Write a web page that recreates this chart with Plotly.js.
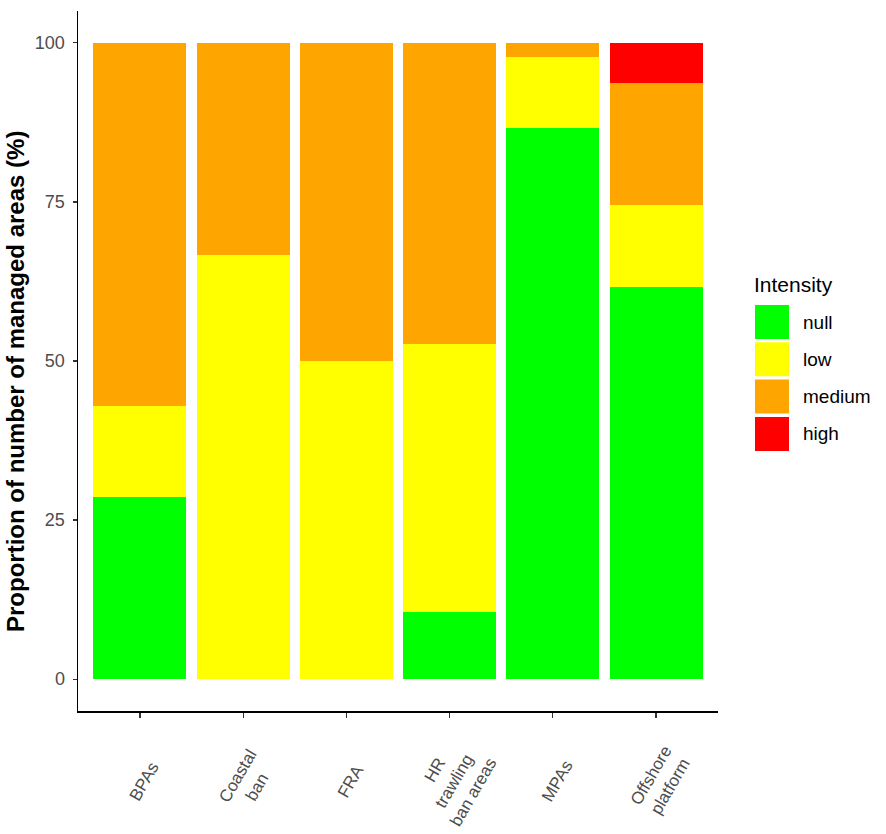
<!DOCTYPE html>
<html><head><meta charset="utf-8">
<script src="https://cdn.plot.ly/plotly-3.0.1.min.js"></script>
<style>html,body{margin:0;padding:0;background:#fff}</style>
</head><body>
<div id="chart" style="width:886px;height:834px"></div>
<script>
var categories = ["BPAs", "Coastal ban", "FRA", "HR trawling ban areas", "MPAs", "Offshore platform"];
var tickLabels = ["BPAs", "Coastal<br>ban", "FRA", "HR<br>trawling<br>ban areas", "MPAs", "Offshore<br>platform"];
var levels = ["null", "low", "medium", "high"];
var colors = ["#00FF00", "#FFFF00", "#FFA500", "#FF0000"];
var nullVals   = [28.57, 0, 0, 10.53, 86.67, 61.70];
var lowVals    = [14.29, 66.67, 50, 42.11, 11.11, 12.77];
var mediumVals = [57.14, 33.33, 50, 47.36, 2.22, 19.15];
var highVals   = [0, 0, 0, 0, 0, 6.38];
var series = [nullVals, lowVals, mediumVals, highVals];

var traces = series.map(function(v, i){
  return {type:'bar', x:categories, y:v, name:levels[i], marker:{color:colors[i], line:{width:0}}, showlegend:false};
});

var L = 78, T = 11, W = 640, H = 700;
function px(x){ return (x - L)/W; }
function py(y){ return (T + H - y)/H; }
var FONT = 'Arial, "Liberation Sans", sans-serif';

var shapes = [], annotations = [];
categories.forEach(function(c, i){
  annotations.push({xref:'x', yref:'paper', x:c, y:py(781), xshift:4, xanchor:'center', yanchor:'middle',
    text:tickLabels[i], textangle:-60, align:'center', showarrow:false,
    font:{family:FONT, size:17, color:'#4d4d4d'}});
});
annotations.push({xref:'paper', yref:'paper', x:px(15), y:py(382), xanchor:'center', yanchor:'middle',
  text:'<b>Proportion of number of managed areas (%)</b>', textangle:-90, showarrow:false,
  font:{family:FONT, size:24, color:'#000'}});
annotations.push({xref:'paper', yref:'paper', x:px(752), y:py(284), xanchor:'left', yanchor:'middle', text:'Intensity', showarrow:false, font:{family:FONT, size:21, color:'#000'}});
for (var i=0;i<levels.length;i++){
  var keyTop = 305 + i*37.3;
  shapes.push({type:'rect', xref:'paper', yref:'paper', x0:px(755), x1:px(789), y0:py(keyTop+34), y1:py(keyTop), fillcolor:colors[i], line:{width:0}});
  annotations.push({xref:'paper', yref:'paper', x:px(801), y:py(keyTop+17), xanchor:'left', yanchor:'middle', text:levels[i], showarrow:false, font:{family:FONT, size:19, color:'#000'}});
}

var layout = {
  width:886, height:834,
  margin:{l:L, r:886-L-W, t:T, b:834-T-H, pad:0},
  barmode:'stack', bargap:0.1,
  paper_bgcolor:'#fff', plot_bgcolor:'#fff',
  font:{family:FONT},
  xaxis:{type:'category', range:[-0.6, 5.6], showgrid:false, zeroline:false, showline:true, linecolor:'#000', linewidth:1.5,
         ticks:'outside', ticklen:5, tickcolor:'#333', tickwidth:1.2, showticklabels:false, fixedrange:true},
  yaxis:{range:[-5, 105], tickvals:[0,25,50,75,100], showgrid:false, zeroline:false, showline:true, linecolor:'#000', linewidth:1.5,
         ticks:'outside', ticklen:4, tickcolor:'#333', tickwidth:1.2, ticklabelstandoff:4,
         tickfont:{family:FONT, size:18, color:'#4d4d4d'}},
  shapes:shapes, annotations:annotations
};
Plotly.newPlot('chart', traces, layout, {displayModeBar:false, staticPlot:true});
</script>
</body></html>
